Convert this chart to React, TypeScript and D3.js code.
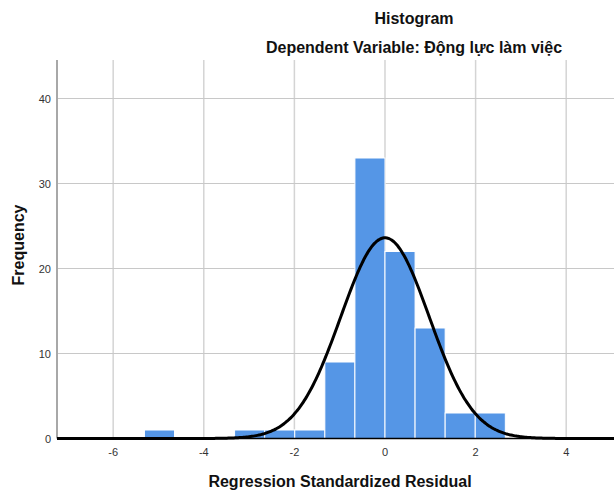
import React from "react";
import * as d3 from "d3";

const binStarts = [-5.31, -3.32, -2.656, -1.992, -1.328, -0.664, 0, 0.664, 1.328, 1.992];
const binCounts = [1, 1, 1, 1, 9, 33, 22, 13, 3, 3];
const binWidth = 0.664;
const xTicks = [-6, -4, -2, 0, 2, 4];
const yTicks = [0, 10, 20, 30, 40];
const curveMean = 0.0;
const curveStd = 0.976;
const curveN = 87;

const W = 614;
const H = 495;
const left = 57;
const right = 614;
const top = 60;
const bottom = 438.5;

export default function App() {
  const x = d3.scaleLinear().domain([-7.24, 5.055]).range([left, right]);
  const y = d3.scaleLinear().domain([0, 44.53]).range([bottom, top]);

  const pts: [number, number][] = d3.range(0, 401).map((i) => {
    const v = -7.24 + (i / 400) * (5.055 + 7.24);
    const z = (v - curveMean) / curveStd;
    const dens = (curveN * binWidth) / (curveStd * Math.sqrt(2 * Math.PI)) * Math.exp(-0.5 * z * z);
    return [v, dens];
  });
  const line = d3
    .line<[number, number]>()
    .x((d) => x(d[0]))
    .y((d) => y(d[1]))
    .curve(d3.curveBasis);

  const font = "'Liberation Sans', Arial, sans-serif";

  return (
    <svg
      width={W}
      height={H}
      style={{ position: "absolute", left: 0, top: 0, background: "#fff" }}
      fontFamily={font}
    >
      <rect x={0} y={0} width={W} height={H} fill="#fff" />
      {xTicks.map((t) => (
        <line key={"vx" + t} x1={x(t)} x2={x(t)} y1={top} y2={bottom} stroke="#d4d4d4" strokeWidth={1.5} />
      ))}
      {yTicks.filter((t) => t > 0).map((t) => (
        <line key={"hy" + t} x1={left} x2={right} y1={y(t)} y2={y(t)} stroke="#c8c8c8" strokeWidth={1} />
      ))}
      {binStarts.map((s, i) => (
        <rect
          key={"b" + i}
          x={x(s)}
          y={y(binCounts[i])}
          width={x(s + binWidth) - x(s)}
          height={bottom - y(binCounts[i])}
          fill="#5596e6"
          stroke="#ffffff"
          strokeWidth={1}
        />
      ))}
      <line x1={left} x2={left} y1={top} y2={bottom} stroke="#a8a8a8" strokeWidth={2} />
      <line x1={left} x2={right} y1={bottom} y2={bottom} stroke="#000" strokeWidth={1.5} />
      <path d={line(pts) || ""} fill="none" stroke="#000" strokeWidth={3} />
      {yTicks.map((t) => (
        <text key={"yl" + t} x={51} y={y(t) + 4} textAnchor="end" fontSize={11} fill="#333">
          {t}
        </text>
      ))}
      {xTicks.map((t) => (
        <text key={"xl" + t} x={x(t)} y={456} textAnchor="middle" fontSize={11} fill="#333">
          {t}
        </text>
      ))}
      <text x={414} y={23.5} textAnchor="middle" fontSize={16} fontWeight="bold" fill="#111">
        Histogram
      </text>
      <text x={414} y={53} textAnchor="middle" fontSize={16} fontWeight="bold" fill="#111">
        Dependent Variable: Động lực làm việc
      </text>
      <text x={340} y={487} textAnchor="middle" fontSize={16} fontWeight="bold" fill="#111">
        Regression Standardized Residual
      </text>
      <text
        transform={`translate(24,245) rotate(-90)`}
        textAnchor="middle"
        fontSize={16}
        fontWeight="bold"
        fill="#111"
      >
        Frequency
      </text>
    </svg>
  );
}
